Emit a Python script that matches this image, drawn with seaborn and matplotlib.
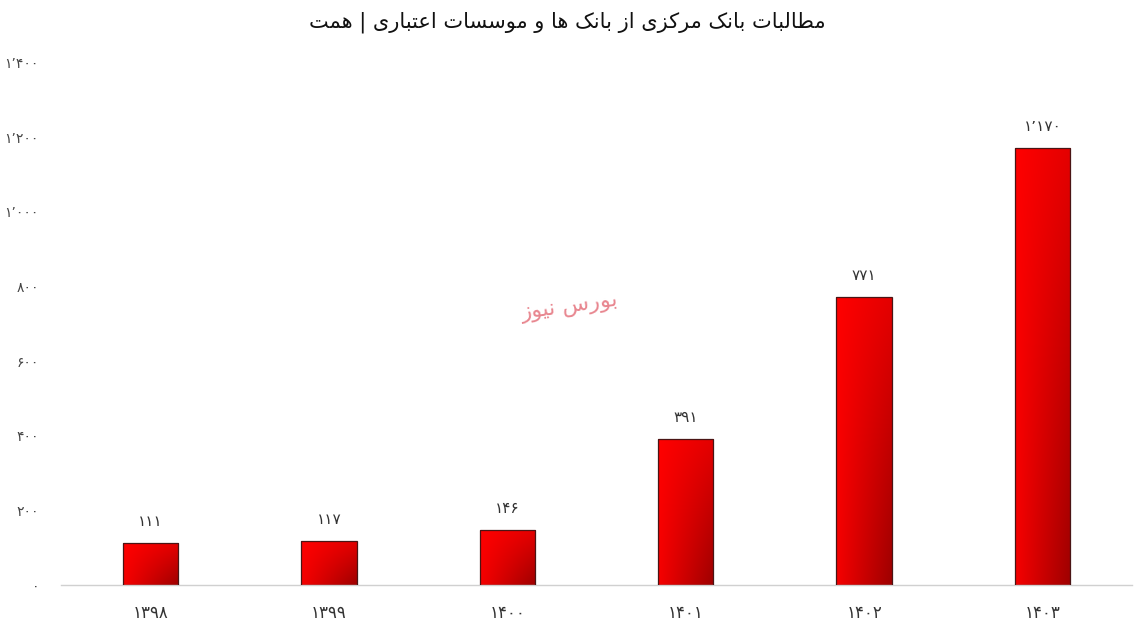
import numpy as np
import pandas as pd
import seaborn as sns
import matplotlib.pyplot as plt
from matplotlib.colors import LinearSegmentedColormap

sns.set_style("white")
plt.rcParams['font.family'] = ['DejaVu Sans']

# data
years = ['۱۳۹۸', '۱۳۹۹', '۱۴۰۰', '۱۴۰۱', '۱۴۰۲', '۱۴۰۳']
values = [111, 117, 146, 391, 771, 1170]
yticks = [0, 200, 400, 600, 800, 1000, 1200, 1400]
title = 'مطالبات بانک مرکزی از بانک ها و موسسات اعتباری | همت'
mark = 'بورس نیوز'

# minimal arabic/persian shaping: isolated, final, initial, medial
FORMS = {
    'ا': ('\uFE8D', '\uFE8E', None, None),
    'ب': ('\uFE8F', '\uFE90', '\uFE91', '\uFE92'),
    'ت': ('\uFE95', '\uFE96', '\uFE97', '\uFE98'),
    'ر': ('\uFEAD', '\uFEAE', None, None),
    'ز': ('\uFEAF', '\uFEB0', None, None),
    'س': ('\uFEB1', '\uFEB2', '\uFEB3', '\uFEB4'),
    'ط': ('\uFEC1', '\uFEC2', '\uFEC3', '\uFEC4'),
    'ع': ('\uFEC9', '\uFECA', '\uFECB', '\uFECC'),
    'ل': ('\uFEDD', '\uFEDE', '\uFEDF', '\uFEE0'),
    'م': ('\uFEE1', '\uFEE2', '\uFEE3', '\uFEE4'),
    'ن': ('\uFEE5', '\uFEE6', '\uFEE7', '\uFEE8'),
    'ه': ('\uFEE9', '\uFEEA', '\uFEEB', '\uFEEC'),
    'و': ('\uFEED', '\uFEEE', None, None),
    'ی': ('\uFBFC', '\uFBFD', '\uFBFE', '\uFBFF'),
    'ک': ('\uFB8E', '\uFB8F', '\uFB90', '\uFB91'),
}


def shape(s):
    out = []
    for i, c in enumerate(s):
        if c not in FORMS:
            out.append(c)
            continue
        prev = s[i - 1] if i > 0 else ''
        nxt = s[i + 1] if i + 1 < len(s) else ''
        join_prev = prev in FORMS and FORMS[prev][2] is not None
        join_next = FORMS[c][2] is not None and nxt in FORMS
        f = FORMS[c]
        if join_prev and join_next:
            out.append(f[3])
        elif join_prev:
            out.append(f[1])
        elif join_next:
            out.append(f[2])
        else:
            out.append(f[0])
    return ''.join(out)[::-1]


def fa_num(n):
    s = f'{n:,}'.replace(',', '٬')
    return s.translate(str.maketrans('0123456789', '۰۱۲۳۴۵۶۷۸۹'))


df = pd.DataFrame({'year': years, 'value': values})

fig = plt.figure(figsize=(11.34, 6.33), dpi=100)
ax = fig.add_axes([0.054, 0.076, 0.944, 0.825])

sns.barplot(data=df, x='year', y='value', ax=ax, width=0.31,
            color='red', edgecolor='#4a1515', linewidth=0.9)

# diagonal gradient fill for each bar
cmap = LinearSegmentedColormap.from_list('g', ['#ff0000', '#9e0000'])
gx, gy = np.meshgrid(np.linspace(0, 1, 60), np.linspace(0, 1, 200))
for p in ax.patches:
    x0, y0 = p.get_x(), p.get_y()
    w, h = p.get_width(), p.get_height()
    grad = 0.28 * gx + 0.1 * gy + 0.62 * gx * gy
    im = ax.imshow(grad, cmap=cmap, vmin=0, vmax=1, aspect='auto',
                   extent=[x0, x0 + w, y0, y0 + h], origin='upper', zorder=2)
    im.set_clip_path(p)
    p.set_facecolor('none')
    p.set_zorder(3)

for i, v in enumerate(values):
    ax.text(i, v + 38, fa_num(v), ha='center', va='bottom', fontsize=11, color='#333333')

ax.set_xlim(-0.5, 5.5)
ax.set_ylim(0, 1400)
ax.set_yticks(yticks)
ax.set_yticklabels([fa_num(t) for t in yticks], fontsize=10, color='#444444')
ax.set_xticks(range(len(years)))
ax.set_xticklabels(years, fontsize=12, color='#333333')
ax.tick_params(axis='y', length=0, pad=16)
ax.tick_params(axis='x', length=0, pad=14)
ax.set_xlabel('')
ax.set_ylabel('')
for s in ['top', 'right', 'left']:
    ax.spines[s].set_visible(False)
ax.spines['bottom'].set_color('#d0d0d0')
ax.spines['bottom'].set_linewidth(1)

fig.text(0.5, 0.965, shape(title), ha='center', va='center', fontsize=15, color='#111111')
ax.text(2.35, 745, shape(mark), ha='center', va='center', fontsize=16,
        color='#e8868f', rotation=8, zorder=5)

fig.savefig('out.png', dpi=100)
